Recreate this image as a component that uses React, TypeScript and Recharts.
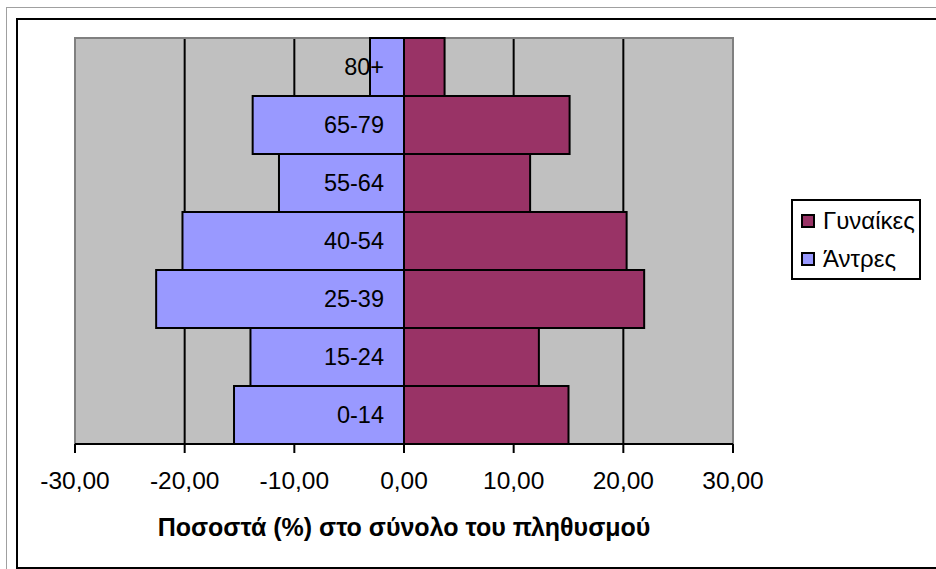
import { BarChart, Bar, XAxis, YAxis, CartesianGrid, Legend, LabelList, ReferenceArea } from 'recharts'

const AGE_GROUPS = ['0-14', '15-24', '25-39', '40-54', '55-64', '65-79', '80+']
const MEN = [-15.5, -14.0, -22.6, -20.2, -11.4, -13.8, -3.1]
const WOMEN = [15.0, 12.3, 21.9, 20.3, 11.5, 15.1, 3.7]
const X_TICKS = [-30, -20, -10, 0, 10, 20, 30]
const SERIES = [
  { key: 'women', name: 'Γυναίκες', color: '#993366' },
  { key: 'men', name: 'Άντρες', color: '#9999FF' },
]
const AXIS_TITLE = 'Ποσοστά (%) στο σύνολο του πληθυσμού'

const FONT = '"Liberation Sans", Arial, sans-serif'

const data = AGE_GROUPS.map((age, i) => ({ age, men: MEN[i], women: WOMEN[i] }))

const fmtTick = (v: number) => v.toFixed(2).replace('.', ',')

function AgeLabel(props: any) {
  const { x, y, width, height, value } = props
  const zero = Math.max(x, x + width)
  return (
    <text x={zero - 20} y={y + height / 2} dy="0.36em" textAnchor="end" fontSize={23.5} fill="#000" fontFamily={FONT}>
      {value}
    </text>
  )
}

function LegendBox() {
  return (
    <div style={{ border: '2px solid #000', background: '#fff', padding: '1px 4px 0 8px', fontFamily: FONT, fontSize: 24, width: 114, textAlign: 'left', lineHeight: 1 }}>
      {SERIES.map(s => (
        <div key={s.key} style={{ display: 'flex', alignItems: 'center', height: 38 }}>
          <span style={{ width: 10, height: 10, background: s.color, border: '2px solid #000', display: 'inline-block', marginRight: 8, flexShrink: 0 }} />
          <span>{s.name}</span>
        </div>
      ))}
    </div>
  )
}

export default function App() {
  return (
    <div style={{ position: 'absolute', left: 0, top: 0, width: 936, height: 569, background: '#fff', overflow: 'hidden' }}>
      <div style={{ position: 'absolute', left: 6, top: 7, width: 940, height: 570, borderLeft: '1px solid #a0a0a0', borderTop: '1px solid #a0a0a0' }} />
      <div style={{ position: 'absolute', left: 16, top: 18, width: 940, height: 547, border: '2px solid #000' }} />
      <div style={{ position: 'absolute', left: 0, top: 0 }}>
        <BarChart
          width={936}
          height={569}
          data={data}
          layout="vertical"
          stackOffset="sign"
          barCategoryGap={0}
          margin={{ top: 38, right: 203, bottom: 25, left: 75 }}
        >
          <CartesianGrid horizontal={false} vertical stroke="#000" strokeWidth={2} fill="#C0C0C0" fillOpacity={1} />
          <ReferenceArea x1={-30} x2={30} fill="none" stroke="#808080" strokeWidth={2} />
          <XAxis
            type="number"
            domain={[-30, 30]}
            ticks={X_TICKS}
            tickFormatter={fmtTick}
            axisLine={{ stroke: '#000', strokeWidth: 2 }}
            tickLine={{ stroke: '#000', strokeWidth: 2 }}
            tickSize={9}
            tickMargin={19}
            height={100}
            tick={{ fill: '#000', fontSize: 24.5, fontFamily: FONT }}
            label={{ value: AXIS_TITLE, position: 'insideBottom', offset: 8, fill: '#000', fontSize: 25, fontWeight: 'bold', fontFamily: FONT }}
          />
          <YAxis type="category" dataKey="age" reversed hide />
          <Legend
            layout="horizontal"
            align="center"
            verticalAlign="middle"
            content={() => <LegendBox />}
            wrapperStyle={{ position: 'absolute', left: 791, top: 199, width: 'auto', height: 'auto' }}
          />
          <Bar dataKey="men" name="Άντρες" stackId="a" fill="#9999FF" stroke="#000" strokeWidth={2} isAnimationActive={false}>
            <LabelList dataKey="age" content={AgeLabel} />
          </Bar>
          <Bar dataKey="women" name="Γυναίκες" stackId="a" fill="#993366" stroke="#000" strokeWidth={2} isAnimationActive={false} />
        </BarChart>
      </div>
    </div>
  )
}
